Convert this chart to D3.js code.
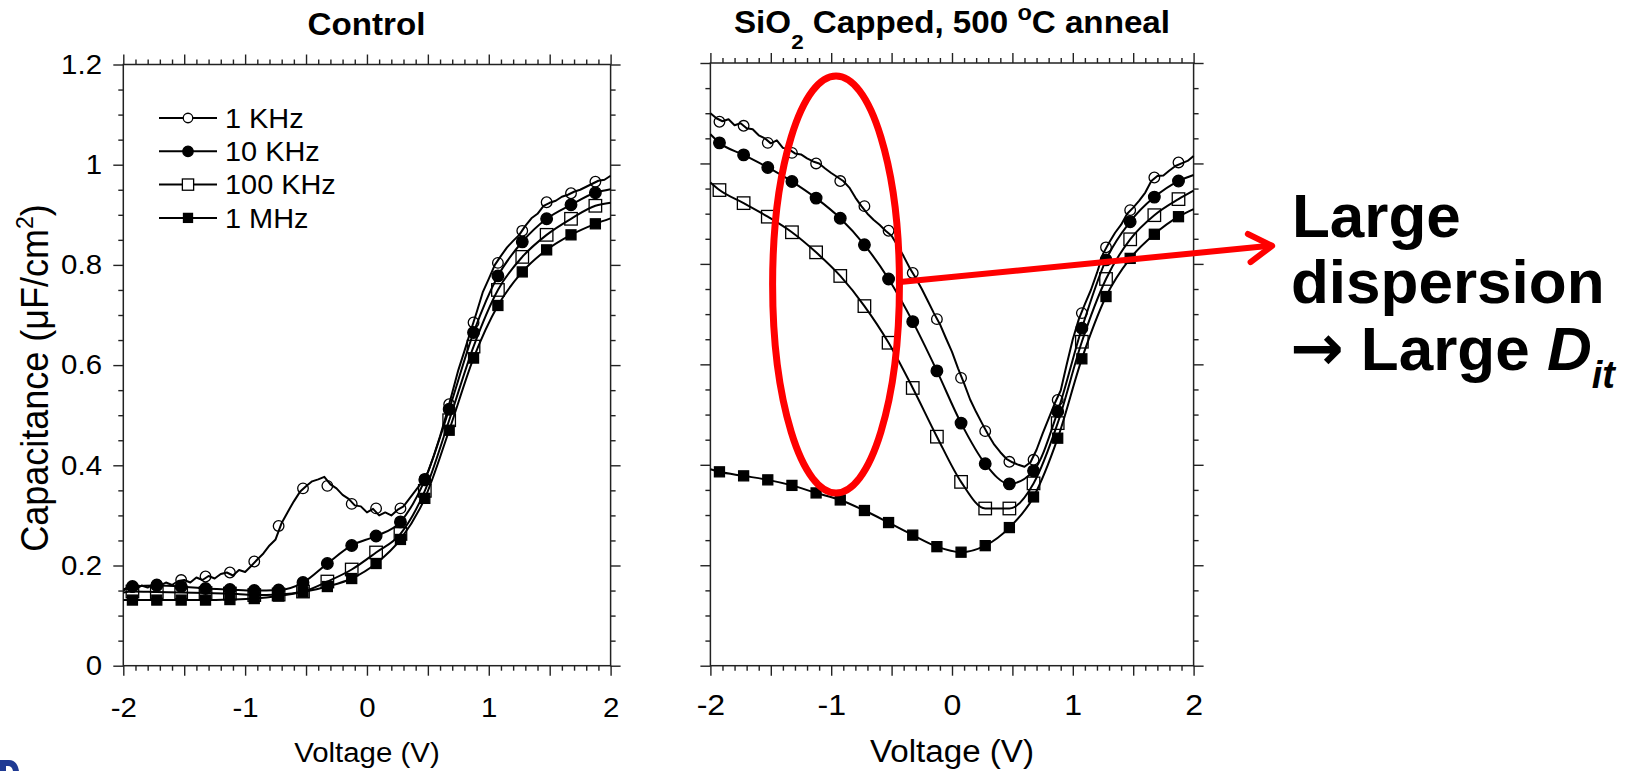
<!DOCTYPE html>
<html>
<head>
<meta charset="utf-8">
<script src="https://cdn.jsdelivr.net/npm/d3@7"></script>
<style>
  body { margin: 0; background: #fff; }
  svg { display: block; font-family: "Liberation Sans", Arial, Helvetica, sans-serif; }
</style>
</head>
<body>
<svg id="chart" width="1648" height="771"></svg>
<script>
// ------------------------------
// C-V curves: control vs SiO2 capped, 4 frequencies
// ------------------------------

const freqLabels = ["1 KHz", "10 KHz", "100 KHz", "1 MHz"];
const xTickLabels = ["-2", "-1", "0", "1", "2"];
const yTickLabels = ["0", "0.2", "0.4", "0.6", "0.8", "1", "1.2"];

// voltages where the symbols sit (every 0.2 V)
const vMarks = [-1.925, -1.725, -1.525, -1.325, -1.125, -0.925, -0.725, -0.525, -0.325, -0.125,
                0.075, 0.275, 0.475, 0.675, 0.875, 1.075, 1.275, 1.475, 1.675, 1.875];
// smooth curves: sweep ends + symbol points
const vSmooth = [-2, ...vMarks, 2];
// noisy 1 KHz trace, sampled every 0.05 V
const vTrace = d3.range(-40, 41).map(i => i / 20);

// --- Control panel ---
const ctrl1kTrace = [
  0.150, 0.158, 0.153, 0.160, 0.156, 0.163, 0.160, 0.166, 0.161, 0.169,
  0.171, 0.166, 0.176, 0.171, 0.179, 0.174, 0.183, 0.186, 0.180, 0.191,
  0.187, 0.199, 0.212, 0.224, 0.240, 0.252, 0.285, 0.307, 0.328, 0.347,
  0.358, 0.368, 0.372, 0.377, 0.362, 0.354, 0.341, 0.333, 0.320, 0.318,
  0.306, 0.313, 0.300, 0.306, 0.300, 0.311, 0.318, 0.334, 0.350, 0.366,
  0.386, 0.420, 0.458, 0.500, 0.545, 0.590, 0.628, 0.667, 0.705, 0.745,
  0.772, 0.800, 0.818, 0.835, 0.848, 0.860, 0.878, 0.893, 0.902, 0.918,
  0.924, 0.928, 0.936, 0.940, 0.946, 0.950, 0.956, 0.962, 0.968, 0.970,
  0.978];
const ctrl1kMarks = [0.157, 0.162, 0.171, 0.178, 0.186, 0.208, 0.279, 0.354, 0.359, 0.323,
                     0.314, 0.314, 0.373, 0.522, 0.685, 0.804, 0.868, 0.925, 0.943, 0.966];
const ctrl10k  = [0.152, 0.158, 0.160, 0.158, 0.154, 0.152, 0.150, 0.151, 0.166, 0.204, 0.240,
                  0.259, 0.287, 0.371, 0.512, 0.665, 0.778, 0.846, 0.892, 0.920, 0.944, 0.951];
const ctrl100k = [0.146, 0.148, 0.147, 0.146, 0.145, 0.144, 0.141, 0.142, 0.148, 0.168, 0.192,
                  0.226, 0.263, 0.349, 0.490, 0.637, 0.750, 0.816, 0.860, 0.892, 0.918, 0.924];
const ctrl1M   = [0.131, 0.131, 0.131, 0.131, 0.131, 0.132, 0.134, 0.139, 0.147, 0.158, 0.174,
                  0.204, 0.252, 0.334, 0.470, 0.614, 0.719, 0.786, 0.830, 0.860, 0.882, 0.893];

// --- SiO2 capped panel ---
const cap1kTrace = [
  1.100, 1.090, 1.084, 1.088, 1.076, 1.080, 1.070, 1.068, 1.056, 1.050,
  1.040, 1.046, 1.031, 1.028, 1.020, 1.018, 1.010, 1.004, 1.000, 0.990,
  0.981, 0.973, 0.965, 0.952, 0.932, 0.915, 0.900, 0.888, 0.878, 0.866,
  0.856, 0.836, 0.815, 0.792, 0.772, 0.750, 0.726, 0.702, 0.680, 0.652,
  0.625, 0.592, 0.562, 0.530, 0.505, 0.482, 0.460, 0.440, 0.425, 0.412,
  0.405, 0.400, 0.396, 0.405, 0.430, 0.462, 0.492, 0.522, 0.548, 0.600,
  0.650, 0.690, 0.720, 0.748, 0.782, 0.820, 0.842, 0.862, 0.878, 0.900,
  0.912, 0.926, 0.942, 0.965, 0.975, 0.976, 0.986, 0.995, 1.000, 1.005,
  1.015];
const cap1kMarks = [1.083, 1.075, 1.041, 1.021, 1.000, 0.965, 0.915, 0.866, 0.782, 0.690,
                    0.573, 0.467, 0.406, 0.410, 0.529, 0.702, 0.833, 0.907, 0.972, 1.002];
const cap10k  = [1.058, 1.041, 1.017, 0.992, 0.964, 0.931, 0.891, 0.838, 0.770, 0.685, 0.587,
                 0.483, 0.402, 0.362, 0.388, 0.506, 0.672, 0.808, 0.884, 0.933, 0.965, 0.977];
const cap100k = [0.962, 0.947, 0.921, 0.894, 0.863, 0.823, 0.776, 0.716, 0.643, 0.553, 0.456,
                 0.366, 0.313, 0.313, 0.363, 0.483, 0.645, 0.770, 0.849, 0.897, 0.929, 0.946];
const cap1M   = [0.391, 0.386, 0.378, 0.370, 0.359, 0.344, 0.330, 0.309, 0.285, 0.260, 0.237,
                 0.226, 0.239, 0.275, 0.336, 0.453, 0.611, 0.735, 0.811, 0.859, 0.894, 0.909];

// red annotation ellipse (data units of right panel) and arrow
const ellipseCenter = [-0.96, 0.759];
const ellipseRadii = [0.525, 0.415];
const arrowFrom = [-0.43, 0.764];
const arrowTo = [2.65, 0.836];

const SX = 1.07; // the pasted chart pictures are a little wider than tall
const svg = d3.select("#chart");

const markerStyles = [
  { shape: "circle", fill: "none", size: 5.3 },
  { shape: "circle", fill: "#000", size: 5.8 },
  { shape: "square", fill: "none", size: 12.5 },
  { shape: "square", fill: "#000", size: 10 }
];

function drawMarker(g, cx, cy, st, scale) {
  const k = scale || 1;
  if (st.shape === "circle") {
    g.append("circle").attr("cx", cx).attr("cy", cy).attr("r", st.size * k)
      .attr("fill", st.fill).attr("stroke", "#000").attr("stroke-width", 1.3);
  } else {
    const s = st.size * k;
    g.append("rect").attr("x", cx - s / 2).attr("y", cy - s / 2).attr("width", s).attr("height", s)
      .attr("fill", st.fill).attr("stroke", "#000").attr("stroke-width", 1.3);
  }
}

function drawPanel(p) {
  const x = d3.scaleLinear().domain([-2, 2]).range(p.xRange);
  const y = d3.scaleLinear().domain([0, 1.2]).range(p.yRange);
  const g = svg.append("g");

  const xMajor = d3.range(-4, 5).map(i => i / 2);
  const xMinor = d3.range(-20, 21).filter(i => i % 5 !== 0).map(i => i / 10);
  const yMajor = d3.range(0, 7).map(i => i / 5);
  const yMinor = d3.range(0, 25).filter(i => i % 4 !== 0).map(i => i / 20);

  function axis(fn, scale, values, size, at, fmt, pad) {
    const a = fn(scale).tickValues(values).tickSize(size).tickSizeOuter(0)
      .tickPadding(pad || 0).tickFormat(fmt || (() => ""));
    const s = g.append("g").attr("transform", at).call(a)
      .attr("font-family", null).attr("font-size", null);
    s.select(".domain").remove();
    s.selectAll("line").attr("stroke", "#222").attr("stroke-width", 1.4);
    return s;
  }

  const atBottom = `translate(0,${y(0)})`, atTop = `translate(0,${y(1.2)})`;
  const atLeft = `translate(${x(-2)},0)`, atRight = `translate(${x(2)},0)`;
  [[d3.axisBottom, atBottom], [d3.axisTop, atTop]].forEach(([fn, at]) => {
    axis(fn, x, xMinor, 5, at);
    axis(fn, x, xMajor, 10, at);
  });
  [[d3.axisLeft, atLeft], [d3.axisRight, atRight]].forEach(([fn, at]) => {
    axis(fn, y, yMinor, 5, at);
    axis(fn, y, yMajor, 10, at);
  });

  // tick labels
  const xl = axis(d3.axisBottom, x, [-2, -1, 0, 1, 2], 0, atBottom,
    (d, i) => xTickLabels[i], p.xLabelBase - 0.71 * p.tickFont);
  xl.selectAll("line").remove();
  xl.selectAll("text").attr("font-size", p.tickFont).attr("fill", "#000")
    .attr("transform", `scale(${SX},1)`);
  if (p.yLabels) {
    const yl = axis(d3.axisLeft, y, yMajor, 0, atLeft, (d, i) => yTickLabels[i], 21.3 / SX);
    yl.selectAll("line").remove();
    yl.selectAll("text").attr("font-size", p.tickFont).attr("fill", "#000")
      .attr("transform", `scale(${SX},1)`);
  }

  // frame
  g.append("rect")
    .attr("x", x(-2)).attr("y", y(1.2))
    .attr("width", x(2) - x(-2)).attr("height", y(0) - y(1.2))
    .attr("fill", "none").attr("stroke", "#222").attr("stroke-width", 1.5);

  // curves
  p.series.forEach(s => {
    const line = d3.line().x(d => x(d[0])).y(d => y(d[1]))
      .curve(s.jagged ? d3.curveLinear : d3.curveMonotoneX);
    g.append("path").datum(s.trace).attr("d", line)
      .attr("fill", "none").attr("stroke", "#000").attr("stroke-width", 2)
      .attr("stroke-linejoin", "round");
  });
  p.series.forEach((s, i) => {
    s.marks.forEach(d => drawMarker(g, x(d[0]), y(d[1]), markerStyles[i]));
  });

  // axis title
  g.append("text")
    .attr("transform", `translate(${(x(-2) + x(2)) / 2},762) scale(${SX},1)`)
    .attr("text-anchor", "middle").attr("font-size", p.axisFont)
    .text("Voltage (V)");

  return { x, y, g };
}

const pairs = (vs, cs) => vs.map((v, i) => [v, cs[i]]);

function buildSeries(trace1k, marks1k, s10k, s100k, s1M) {
  return [
    { trace: pairs(vTrace, trace1k), marks: pairs(vMarks, marks1k), jagged: true },
    { trace: pairs(vSmooth, s10k), marks: pairs(vMarks, s10k.slice(1, 21)) },
    { trace: pairs(vSmooth, s100k), marks: pairs(vMarks, s100k.slice(1, 21)) },
    { trace: pairs(vSmooth, s1M), marks: pairs(vMarks, s1M.slice(1, 21)) }
  ];
}

// --- Left: Control ---
const left = drawPanel({
  xRange: [123.3, 610.6], yRange: [665.7, 64.5],
  tickFont: 27.5, xLabelBase: 51, axisFont: 27.5, yLabels: true,
  series: buildSeries(ctrl1kTrace, ctrl1kMarks, ctrl10k, ctrl100k, ctrl1M)
});

// --- Right: SiO2 capped ---
const right = drawPanel({
  xRange: [710.4, 1193.6], yRange: [665.7, 63],
  tickFont: 30, xLabelBase: 49.3, axisFont: 31, yLabels: false,
  series: buildSeries(cap1kTrace, cap1kMarks, cap10k, cap100k, cap1M)
});

// --- Titles ---
svg.append("text")
  .attr("transform", `translate(366.5,35) scale(${SX},1)`)
  .attr("text-anchor", "middle").attr("font-size", 31).attr("font-weight", "bold")
  .text("Control");

const t2 = svg.append("text")
  .attr("transform", `translate(952,33.3) scale(${SX},1)`)
  .attr("text-anchor", "middle").attr("font-size", 31).attr("font-weight", "bold");
t2.append("tspan").text("SiO");
t2.append("tspan").attr("font-size", 21).attr("dy", 16).text("2");
t2.append("tspan").attr("dy", -16).text(" Capped, 500 ");
t2.append("tspan").attr("font-size", 22).attr("dy", -13).text("o");
t2.append("tspan").attr("dy", 13).text("C anneal");

// --- Y axis title ---
const yt = svg.append("text")
  .attr("transform", `translate(48,378) scale(${SX},1) rotate(-90)`)
  .attr("text-anchor", "middle").attr("font-size", 36);
yt.append("tspan").text("Capacitance (μF/cm");
yt.append("tspan").attr("font-size", 23).attr("dy", -14).text("2");
yt.append("tspan").attr("dy", 14).text(")");

// --- Legend ---
const legendRows = [118, 151.3, 184.6, 217.9];
const leg = svg.append("g");
freqLabels.forEach((lab, i) => {
  const ry = legendRows[i];
  leg.append("line").attr("x1", 159).attr("x2", 217).attr("y1", ry).attr("y2", ry)
    .attr("stroke", "#000").attr("stroke-width", 2);
  const st = markerStyles[i];
  drawMarker(leg, 188, ry, { ...st, fill: st.fill === "none" ? "#fff" : st.fill }, 0.9);
  leg.append("text")
    .attr("transform", `translate(225,${ry + 9.6}) scale(${SX},1)`)
    .attr("font-size", 27).text(lab);
});

// --- Red annotations ---
const ax = right.x, ay = right.y;
svg.append("ellipse")
  .attr("cx", ax(ellipseCenter[0])).attr("cy", ay(ellipseCenter[1]))
  .attr("rx", ax(ellipseCenter[0] + ellipseRadii[0]) - ax(ellipseCenter[0]))
  .attr("ry", ay(ellipseCenter[1]) - ay(ellipseCenter[1] + ellipseRadii[1]))
  .attr("fill", "none").attr("stroke", "#ff0000").attr("stroke-width", 7);

const p0 = [ax(arrowFrom[0]), ay(arrowFrom[1])];
const p1 = [ax(arrowTo[0]), ay(arrowTo[1])];
const ang = Math.atan2(p1[1] - p0[1], p1[0] - p0[0]);
const headLen = 27, headAng = 0.55;
const h1 = [p1[0] - headLen * Math.cos(ang - headAng), p1[1] - headLen * Math.sin(ang - headAng)];
const h2 = [p1[0] - headLen * Math.cos(ang + headAng), p1[1] - headLen * Math.sin(ang + headAng)];
svg.append("line")
  .attr("x1", p0[0]).attr("y1", p0[1]).attr("x2", p1[0] - 2).attr("y2", p1[1])
  .attr("stroke", "#ff0000").attr("stroke-width", 6).attr("stroke-linecap", "round");
svg.append("path")
  .attr("d", `M${h1}L${p1}L${h2}`)
  .attr("fill", "none").attr("stroke", "#ff0000").attr("stroke-width", 6)
  .attr("stroke-linecap", "round").attr("stroke-linejoin", "round");

// --- Callout text ---
const callout = svg.append("g").attr("font-weight", "bold").attr("font-size", 62);
callout.append("text").attr("x", 1292).attr("y", 236.7).text("Large");
callout.append("text").attr("x", 1291).attr("y", 303.3).text("dispersion");
const l3 = callout.append("text").attr("x", 1290).attr("y", 370);
l3.append("tspan").attr("font-family", "'DejaVu Sans', sans-serif").attr("font-size", 64).text("→");
l3.append("tspan").text(" Large ");
l3.append("tspan").attr("font-style", "italic").text("D");
l3.append("tspan").attr("font-style", "italic").attr("font-size", 38).attr("dy", 18).text("it");

// cut-off logo corner, bottom left (only its top edge is in frame)
svg.append("path")
  .attr("d", "M0,760 L9,760 Q17,760 19,771 L13,771 Q12,766 8,766 L6,766 L6,771 L0,771 Z")
  .attr("fill", "#1f3a93");
</script>
</body>
</html>
